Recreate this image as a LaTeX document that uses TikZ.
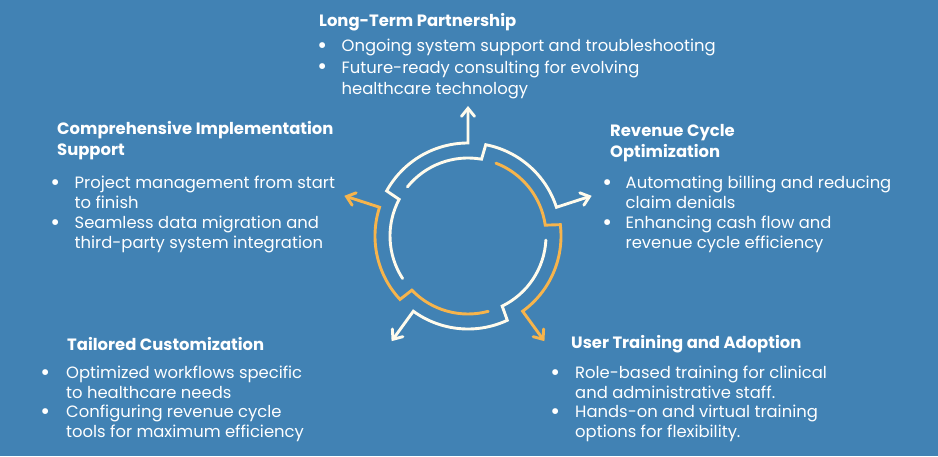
\documentclass[tikz,border=0pt]{standalone}
\usepackage{fontspec}
\setmainfont{Poppins}
\usepackage{xcolor}
\usetikzlibrary{arrows.meta}
\definecolor{bgblue}{RGB}{65,130,180}
\definecolor{cream}{RGB}{255,251,236}
\definecolor{gold}{RGB}{246,180,76}
\newcommand\blt{\hbox to 0pt{\hss\raisebox{-.1em}{\scalebox{1.45}{\textbullet}}\hss}}

\begin{document}
\begin{tikzpicture}[x=1pt,y=1pt,
  head/.style={text=white, anchor=base west, inner sep=0pt, align=left, font=\fontsize{16.4}{20.5}\selectfont\bfseries},
  blurb/.style={text=white, anchor=base west, inner sep=0pt, font=\fontsize{16.4}{19.7}\selectfont},
  ring/.style={line width=2.9pt, line cap=round, -{Straight Barb[length=8pt,width=13pt,line cap=round]}}]
% the page
\fill[bgblue] (0,0) rectangle (938,456);
\useasboundingbox (0,0) rectangle (938,456);
% the cycle: five segments, inner arc, step out, outer arc, arrow out
\begin{scope}[shift={(468,220)}]
\foreach \a/\c in {90/cream,18/cream,-54/gold,-126/cream,162/gold}{
  \draw[ring,\c] ({\a+123}:78) arc[start angle=\a+123, end angle=\a+62, radius=78] -- ({\a+61}:93) arc[start angle=\a+61, end angle=\a, radius=93] -- (\a:130);
}
\end{scope}
% top block
\node[head] (partner) at (319,429.5) {Long-Term Partnership};
\node[blurb, font=\fontsize{16.4}{21.6}\selectfont] (partner list) at (322,404.5) {\begin{tabular}[t]{@{}l@{\hspace{19.5pt}}l@{}}\blt & Ongoing system support and troubleshooting\\ \blt & Future-ready consulting for evolving\\ & healthcare technology\end{tabular}};
% left block
\node[head] (impl) at (57,300.5) {Comprehensive Implementation\\Support};
\node[blurb] (impl list) at (55,267) {\begin{tabular}[t]{@{}l@{\hspace{19.5pt}}l@{}}\blt & Project management from start\\ & to finish\\ \blt & Seamless data migration and\\ & third-party system integration\end{tabular}};
% right block
\node[head] (rcm) at (610,298.5) {Revenue Cycle\\Optimization};
\node[blurb] (rcm list) at (607,267) {\begin{tabular}[t]{@{}l@{\hspace{18.5pt}}l@{}}\blt & Automating billing and reducing\\ & claim denials\\ \blt & Enhancing cash flow and\\ & revenue cycle efficiency\end{tabular}};
% bottom left block
\node[head] (custom) at (67,105.5) {Tailored Customization};
\node[blurb] (custom list) at (45,77.5) {\begin{tabular}[t]{@{}l@{\hspace{21pt}}l@{}}\blt & Optimized workflows specific\\ & to healthcare needs\\ \blt & Configuring revenue cycle\\ & tools for maximum efficiency\end{tabular}};
% bottom right block
\node[head] (training) at (571,107.5) {User Training and Adoption};
\node[blurb] (training list) at (555,77.5) {\begin{tabular}[t]{@{}l@{\hspace{20pt}}l@{}}\blt & Role-based training for clinical\\ & and administrative staff.\\ \blt & Hands-on and virtual training\\ & options for flexibility.\end{tabular}};
\end{tikzpicture}
\end{document}
